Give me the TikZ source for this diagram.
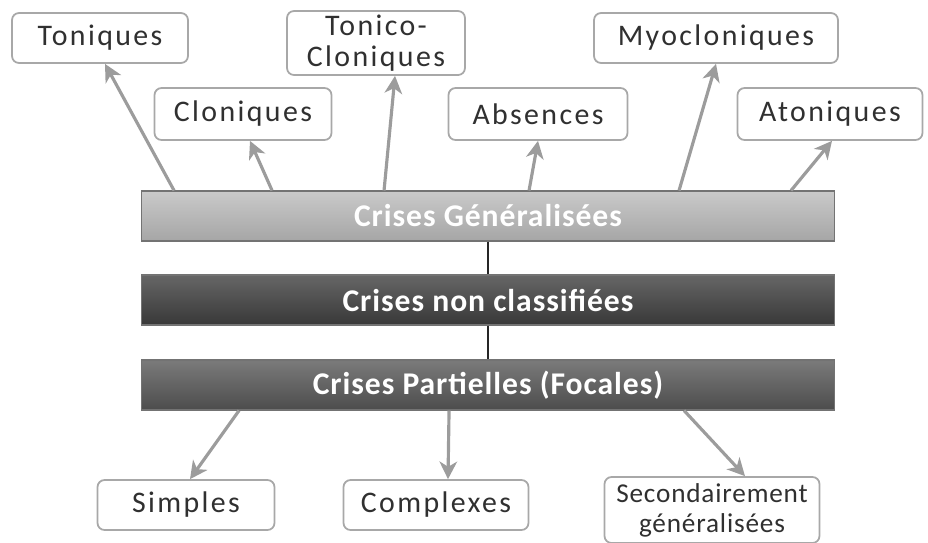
\documentclass[tikz,border=0pt]{standalone}
\usepackage{fontspec}
\setmainfont{Carlito}
\newfontfamily\typefont[LetterSpace=8]{Carlito}
\newfontfamily\typefontsmall[LetterSpace=3]{Carlito}
\newfontfamily\barfont[LetterSpace=3]{Carlito}
\usetikzlibrary{calc,arrows.meta}
\definecolor{boxline}{HTML}{A8A8A8}
\definecolor{arrowgray}{HTML}{9C9C9C}
\definecolor{txtgray}{HTML}{303030}
\tikzset{ type_box/.style = { rectangle % seizure type
, rounded corners = 4pt
, draw = boxline
, line width = 1pt
, fill = white
, align = center
, text = txtgray
, font = \typefont\fontsize{17}{18}\selectfont
, inner sep = 2pt
}
, bar_box/.style = { rectangle % class of seizure
, minimum width = 13.86cm
, minimum height = 1cm
, draw = black!55
, line width = 0.6pt
, text = white
, font = \barfont\fontsize{18}{19}\selectfont\bfseries
}
}

\begin{document}
\begin{tikzpicture}[x=0.02cm, y=-0.02cm,
        edge_style/.style={draw=arrowgray, line width=1.8pt, -{Stealth[length=10pt,width=10pt,inset=3pt]}},
        link_style/.style={draw=black!85, line width=1.4pt}]
            \useasboundingbox (0,0) rectangle (928,542);

            % the three classes
            \node [bar_box, top color=gray!42, bottom color=gray!70](gen) at (488,216) {Crises Généralisées};
            \node [bar_box, top color=black!60, bottom color=black!78](nc) at (488,300) {Crises non classifiées};
            \node [bar_box, top color=black!52, bottom color=black!70](pf) at (488,385) {Crises Partielles (Focales)};
            \draw [link_style] (gen.south) -- (nc.north);
            \draw [link_style] (nc.south) -- (pf.north);

            % generalised seizures
            \node [type_box, minimum width=3.52cm, minimum height=1.00cm](ton) at (100,38) {Toniques};
            \node [type_box, minimum width=3.54cm, minimum height=1.04cm](clo) at (243,114) {Cloniques};
            \node [type_box, minimum width=3.56cm, minimum height=1.14cm](tc) at (376,43) {Tonico-\\Cloniques};
            \node [type_box, minimum width=3.58cm, minimum height=1.04cm](abs) at (538,114) {Absences};
            \node [type_box, minimum width=4.88cm, minimum height=1.00cm](myo) at (716,38) {Myocloniques};
            \node [type_box, minimum width=3.70cm, minimum height=1.04cm](ato) at (830,114) {Atoniques};

            \draw [edge_style] ($(gen.north west)+(33,0)$) -- ($(ton.south)+(5,0)$);
            \draw [edge_style] ($(gen.north west)+(131,0)$) -- ($(clo.south)+(7,0)$);
            \draw [edge_style] ($(gen.north west)+(243,0)$) -- ($(tc.south)+(19,0)$);
            \draw [edge_style] ($(gen.north west)+(388,0)$) -- (abs.south);
            \draw [edge_style] ($(gen.north west)+(538,0)$) -- (myo.south);
            \draw [edge_style] ($(gen.north west)+(650,0)$) -- ($(ato.south)+(2,0)$);

            % partial seizures
            \node [type_box, minimum width=3.54cm, minimum height=1.00cm](sim) at (186,505) {Simples};
            \node [type_box, minimum width=3.70cm, minimum height=1.00cm](cpx) at (436,505) {Complexes};
            \node [type_box, minimum width=4.30cm, minimum height=1.32cm, font=\typefontsmall\fontsize{15.5}{17}\selectfont](sec) at (712,510) {Secondairement\\généralisées};

            \draw [edge_style] ($(pf.south west)+(98,0)$) -- ($(sim.north)+(4,0)$);
            \draw [edge_style] ($(pf.south west)+(308,0)$) -- ($(cpx.north)+(12,0)$);
            \draw [edge_style] ($(pf.south west)+(543,0)$) -- ($(sec.north)+(33,0)$);

        \end{tikzpicture}
\end{document}
